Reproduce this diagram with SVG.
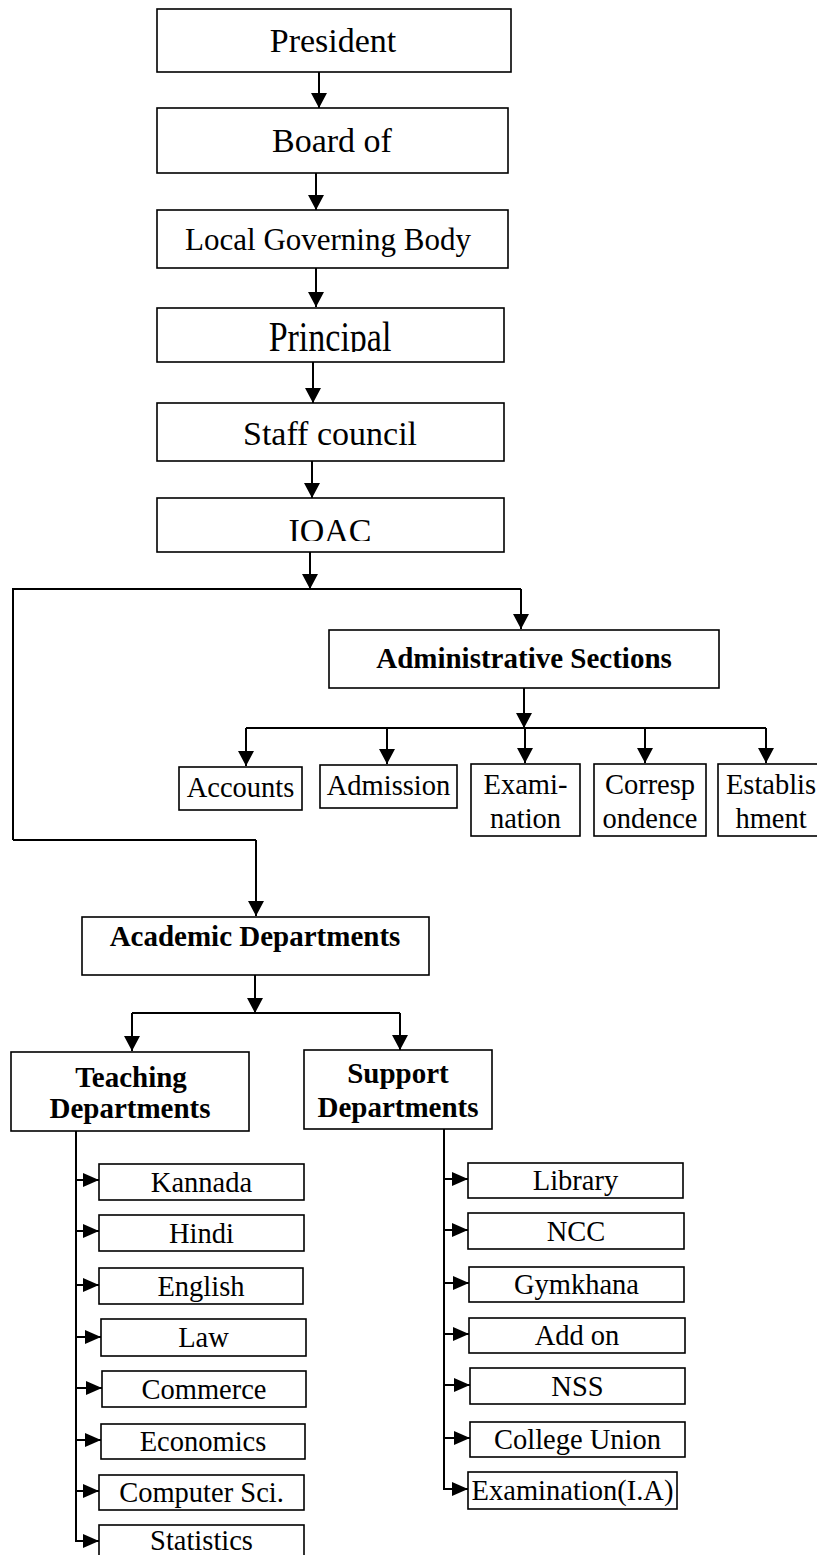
<svg xmlns="http://www.w3.org/2000/svg" width="817" height="1555" viewBox="0 0 817 1555">
<style>
  .box { fill: #ffffff; stroke: #000000; stroke-width: 1.6; }
  .t { font-family: "Liberation Serif", "Times New Roman", serif; fill: #000000; text-anchor: middle; }
  .big { font-size: 34px; }
  .mid { font-size: 31px; }
  .sm { font-size: 28.5px; }
  .b { font-size: 29px; font-weight: bold; }
  .ln { fill: none; stroke: #000000; stroke-width: 2; }
  .ar { fill: none; stroke: #000000; stroke-width: 2; marker-end: url(#ah); }
  .arh { fill: none; stroke: #000000; stroke-width: 2; marker-end: url(#ahs); }
</style>
<defs>
  <marker id="ah" markerUnits="userSpaceOnUse" viewBox="0 0 15 16" markerWidth="15" markerHeight="16" refX="15" refY="8" orient="auto">
    <path d="M0,0 L15,8 L0,16 Z" fill="#000000"/>
  </marker>
  <marker id="ahs" markerUnits="userSpaceOnUse" viewBox="0 0 16 14" markerWidth="16" markerHeight="14" refX="16" refY="7" orient="auto">
    <path d="M0,0 L16,7 L0,14 Z" fill="#000000"/>
  </marker>
  <clipPath id="clipPrincipal"><rect x="157" y="308" width="347" height="44"/></clipPath>
  <clipPath id="clipIQAC"><rect x="157" y="498" width="347" height="43"/></clipPath>
</defs>
<rect x="0" y="0" width="817" height="1555" fill="#ffffff"/>

<g id="connectors">
  <line class="ar" x1="319" y1="72" x2="319" y2="108"/>
  <line class="ar" x1="316" y1="173" x2="316" y2="210"/>
  <line class="ar" x1="316" y1="268" x2="316" y2="307"/>
  <line class="ar" x1="313" y1="362" x2="313" y2="403"/>
  <line class="ar" x1="312" y1="461" x2="312" y2="498"/>
  <line class="ar" x1="310" y1="552" x2="310" y2="589"/>
  <polyline class="ln" points="13,840 13,589 521,589"/>
  <line class="ar" x1="521" y1="589" x2="521" y2="629"/>
  <polyline class="ln" points="13,840 256,840"/>
  <line class="ar" x1="256" y1="840" x2="256" y2="916"/>
  <line class="ar" x1="524" y1="688" x2="524" y2="728"/>
  <line class="ln" x1="246" y1="728" x2="766" y2="728"/>
  <line class="ar" x1="246" y1="728" x2="246" y2="766"/>
  <line class="ar" x1="387" y1="728" x2="387" y2="764"/>
  <line class="ar" x1="525" y1="728" x2="525" y2="763"/>
  <line class="ar" x1="645" y1="728" x2="645" y2="763"/>
  <line class="ar" x1="766" y1="728" x2="766" y2="763"/>
  <line class="ar" x1="255" y1="975" x2="255" y2="1013"/>
  <line class="ln" x1="132" y1="1013" x2="400" y2="1013"/>
  <line class="ar" x1="132" y1="1013" x2="132" y2="1051"/>
  <line class="ar" x1="400" y1="1013" x2="400" y2="1050"/>
  <line class="ln" x1="76" y1="1131" x2="76" y2="1541"/>
  <line class="arh" x1="75" y1="1180" x2="99" y2="1180"/>
  <line class="arh" x1="75" y1="1231" x2="99" y2="1231"/>
  <line class="arh" x1="75" y1="1285" x2="99" y2="1285"/>
  <line class="arh" x1="75" y1="1337" x2="101" y2="1337"/>
  <line class="arh" x1="75" y1="1388" x2="102" y2="1388"/>
  <line class="arh" x1="75" y1="1440" x2="101" y2="1440"/>
  <line class="arh" x1="75" y1="1491" x2="99" y2="1491"/>
  <line class="arh" x1="75" y1="1541" x2="99" y2="1541"/>
  <line class="ln" x1="444" y1="1129" x2="444" y2="1488"/>
  <line class="arh" x1="443" y1="1179" x2="468" y2="1179"/>
  <line class="arh" x1="443" y1="1230" x2="468" y2="1230"/>
  <line class="arh" x1="443" y1="1283" x2="469" y2="1283"/>
  <line class="arh" x1="443" y1="1334" x2="469" y2="1334"/>
  <line class="arh" x1="443" y1="1385" x2="470" y2="1385"/>
  <line class="arh" x1="443" y1="1438" x2="470" y2="1438"/>
  <line class="arh" x1="443" y1="1489" x2="468" y2="1489"/>
</g>

<g id="president"><rect class="box" x="157" y="9" width="354" height="63"/><text class="t big" x="333" y="52">President</text></g>
<g id="board"><rect class="box" x="157" y="108" width="351" height="65"/><text class="t big" x="332" y="152">Board of</text></g>
<g id="lgb"><rect class="box" x="157" y="210" width="351" height="58"/><text class="t mid" x="328" y="250">Local Governing Body</text></g>
<g id="principal"><rect class="box" x="157" y="308" width="347" height="54"/><g clip-path="url(#clipPrincipal)"><text class="t big" transform="translate(330,351) scale(1,1.25)" x="0" y="0">Principal</text></g></g>
<g id="staff"><rect class="box" x="157" y="403" width="347" height="58"/><text class="t big" x="330" y="445">Staff council</text></g>
<g id="iqac"><rect class="box" x="157" y="498" width="347" height="54"/><g clip-path="url(#clipIQAC)"><text class="t big" x="330" y="542">IQAC</text></g></g>

<g id="admin"><rect class="box" x="329" y="630" width="390" height="58"/><text class="t b" x="524" y="668">Administrative Sections</text></g>
<g id="accounts"><rect class="box" x="179" y="767" width="123" height="43"/><text class="t sm" x="240.5" y="797">Accounts</text></g>
<g id="admission"><rect class="box" x="320" y="765" width="137" height="43"/><text class="t sm" x="388.5" y="795">Admission</text></g>
<g id="examination"><rect class="box" x="471" y="764" width="109" height="72"/><text class="t sm" x="525.5" y="794">Exami-</text><text class="t sm" x="525.5" y="828">nation</text></g>
<g id="correspondence"><rect class="box" x="594" y="764" width="112" height="72"/><text class="t sm" x="650" y="794">Corresp</text><text class="t sm" x="650" y="828">ondence</text></g>
<g id="establishment"><rect class="box" x="718" y="764" width="108" height="72"/><text class="t sm" x="771" y="794">Establis</text><text class="t sm" x="771" y="828">hment</text></g>

<g id="academic"><rect class="box" x="82" y="917" width="347" height="58"/><text class="t b" x="255" y="946">Academic Departments</text></g>
<g id="teaching"><rect class="box" x="11" y="1052" width="238" height="79"/><text class="t b" x="131" y="1087">Teaching</text><text class="t b" x="130" y="1118">Departments</text></g>
<g id="support"><rect class="box" x="304" y="1050" width="188" height="79"/><text class="t b" x="398" y="1083">Support</text><text class="t b" x="398" y="1117">Departments</text></g>

<g id="kannada"><rect class="box" x="99" y="1164" width="205" height="36"/><text class="t sm" x="201.5" y="1192">Kannada</text></g>
<g id="hindi"><rect class="box" x="99" y="1215" width="205" height="36"/><text class="t sm" x="201.5" y="1243">Hindi</text></g>
<g id="english"><rect class="box" x="99" y="1268" width="204" height="36"/><text class="t sm" x="201" y="1296">English</text></g>
<g id="law"><rect class="box" x="101" y="1319" width="205" height="37"/><text class="t sm" x="203.5" y="1347">Law</text></g>
<g id="commerce"><rect class="box" x="102" y="1371" width="204" height="36"/><text class="t sm" x="204" y="1399">Commerce</text></g>
<g id="economics"><rect class="box" x="101" y="1424" width="204" height="35"/><text class="t sm" x="203" y="1451">Economics</text></g>
<g id="computer"><rect class="box" x="99" y="1475" width="205" height="35"/><text class="t sm" x="201.5" y="1502">Computer Sci.</text></g>
<g id="statistics"><rect class="box" x="99" y="1525" width="205" height="40"/><text class="t sm" x="201.5" y="1550">Statistics</text></g>

<g id="library"><rect class="box" x="468" y="1163" width="215" height="35"/><text class="t sm" x="575.5" y="1190">Library</text></g>
<g id="ncc"><rect class="box" x="468" y="1213" width="216" height="36"/><text class="t sm" x="576" y="1241">NCC</text></g>
<g id="gymkhana"><rect class="box" x="469" y="1267" width="215" height="35"/><text class="t sm" x="576.5" y="1294">Gymkhana</text></g>
<g id="addon"><rect class="box" x="469" y="1318" width="216" height="35"/><text class="t sm" x="577" y="1345">Add on</text></g>
<g id="nss"><rect class="box" x="470" y="1368" width="215" height="36"/><text class="t sm" x="577.5" y="1396">NSS</text></g>
<g id="union"><rect class="box" x="470" y="1422" width="215" height="35"/><text class="t sm" x="577.5" y="1449">College Union</text></g>
<g id="examia"><rect class="box" x="468" y="1472" width="209" height="37"/><text class="t sm" x="572.5" y="1500">Examination(I.A)</text></g>
</svg>
